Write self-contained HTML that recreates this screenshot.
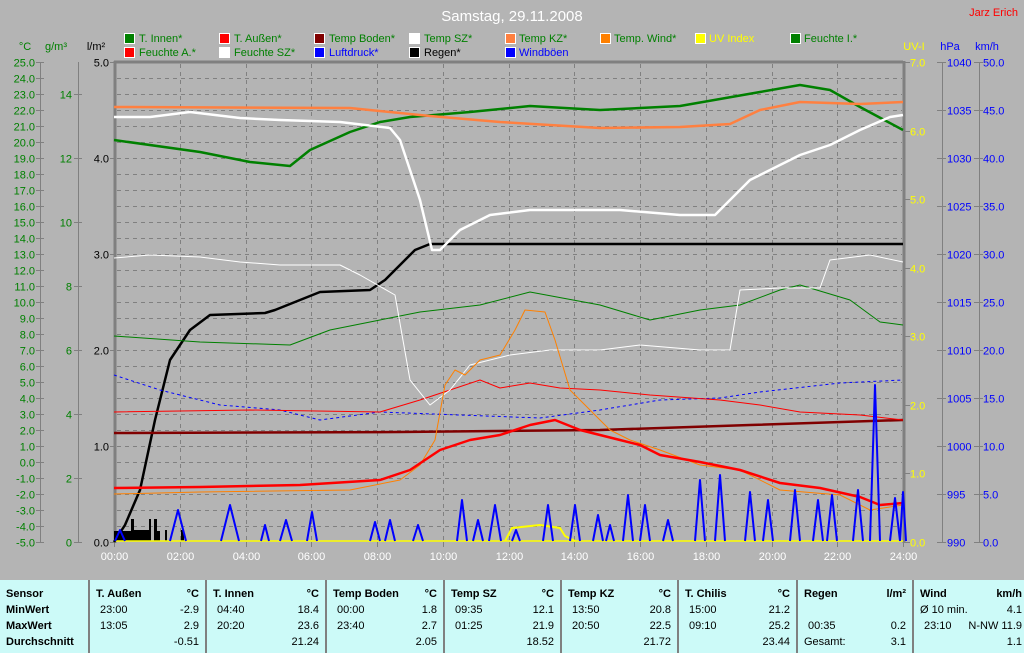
<!DOCTYPE html>
<html><head><meta charset="utf-8"><style>
body{margin:0;background:#b4b4b4;width:1024px;height:653px;overflow:hidden;font-family:"Liberation Sans",sans-serif}
svg{position:absolute;left:0;top:0}
.t{position:absolute;left:0;top:580px;width:1024px;height:73px;background:#ccfaf8;font-size:11px}
.c{position:absolute;top:0;height:73px;border-left:2px solid #808080}
.c div{position:absolute;white-space:nowrap}
.b{font-weight:bold}
</style></head><body>
<svg width="1024" height="580" font-family="Liberation Sans, sans-serif" font-size="11">
<text x="512" y="21" fill="#fff" font-size="15" text-anchor="middle">Samstag, 29.11.2008</text>
<text x="1018" y="16" fill="#f00" font-size="11" text-anchor="end">Jarz Erich</text>
<g font-size="11">
<rect x="124.5" y="33.5" width="10" height="10" fill="#008000" stroke="#fff"/><text x="139" y="42" fill="#008000">T. Innen*</text>
<rect x="124.5" y="47.5" width="10" height="10" fill="#f00" stroke="#fff"/><text x="139" y="56" fill="#008000">Feuchte A.*</text>
<rect x="219.5" y="33.5" width="10" height="10" fill="#f00" stroke="#fff"/><text x="234" y="42" fill="#008000">T. Außen*</text>
<rect x="219.5" y="47.5" width="10" height="10" fill="#fff" stroke="#fff"/><text x="234" y="56" fill="#008000">Feuchte SZ*</text>
<rect x="314.5" y="33.5" width="10" height="10" fill="#800000" stroke="#fff"/><text x="329" y="42" fill="#008000">Temp Boden*</text>
<rect x="314.5" y="47.5" width="10" height="10" fill="#00f" stroke="#fff"/><text x="329" y="56" fill="#00f">Luftdruck*</text>
<rect x="409.5" y="33.5" width="10" height="10" fill="#fff" stroke="#fff"/><text x="424" y="42" fill="#008000">Temp SZ*</text>
<rect x="409.5" y="47.5" width="10" height="10" fill="#000" stroke="#fff"/><text x="424" y="56" fill="#000">Regen*</text>
<rect x="505.5" y="33.5" width="10" height="10" fill="#ff8040" stroke="#fff"/><text x="519" y="42" fill="#008000">Temp KZ*</text>
<rect x="505.5" y="47.5" width="10" height="10" fill="#00f" stroke="#fff"/><text x="519" y="56" fill="#00f">Windböen</text>
<rect x="600.5" y="33.5" width="10" height="10" fill="#ff8000" stroke="#fff"/><text x="614" y="42" fill="#008000">Temp. Wind*</text>
<rect x="695.5" y="33.5" width="10" height="10" fill="#ff0" stroke="#fff"/><text x="709" y="42" fill="#ff0">UV Index</text>
<rect x="790.5" y="33.5" width="10" height="10" fill="#008000" stroke="#fff"/><text x="804" y="42" fill="#008000">Feuchte I.*</text>
</g>
<text x="25" y="50" fill="#008000" text-anchor="middle">°C</text>
<text x="56" y="50" fill="#008000" text-anchor="middle">g/m³</text>
<text x="96" y="50" fill="#000" text-anchor="middle">l/m²</text>
<text x="914" y="50" fill="#ff0" text-anchor="middle">UV-I</text>
<text x="950" y="50" fill="#00f" text-anchor="middle">hPa</text>
<text x="987" y="50" fill="#00f" text-anchor="middle">km/h</text>
<g stroke="#808080" fill="none">
<line x1="40.5" y1="62" x2="40.5" y2="542"/><line x1="78.5" y1="62" x2="78.5" y2="542"/>
<line x1="942.5" y1="62" x2="942.5" y2="542"/><line x1="979.5" y1="62" x2="979.5" y2="542"/>
<line x1="114" y1="62" x2="903" y2="62" stroke-width="3"/>
<line x1="115" y1="61" x2="115" y2="543" stroke-width="3"/>
<line x1="904" y1="61" x2="904" y2="543" stroke-width="3"/>
</g>
<g id="grid" stroke="#808080" stroke-dasharray="4,4"></g>
<g id="ax"></g>
<g id="series" fill="none" stroke-linejoin="round"></g>
</svg>
<div class="t">
<div class="c" style="left:-2px;width:88px;border:0"><div class="b" style="left:8px;top:8px">Sensor</div><div class="b" style="left:8px;top:24px">MinWert</div><div class="b" style="left:8px;top:40px">MaxWert</div><div class="b" style="left:8px;top:56px">Durchschnitt</div></div>
<div class="c" style="left:88px;width:115px"><div class="b" style="left:6px;top:8px">T. Außen</div><div class="b" style="right:6px;top:8px">°C</div><div style="left:10px;top:24px">23:00</div><div style="right:6px;top:24px">-2.9</div><div style="left:10px;top:40px">13:05</div><div style="right:6px;top:40px">2.9</div><div style="right:6px;top:56px">-0.51</div></div>
<div class="c" style="left:205px;width:118px"><div class="b" style="left:6px;top:8px">T. Innen</div><div class="b" style="right:6px;top:8px">°C</div><div style="left:10px;top:24px">04:40</div><div style="right:6px;top:24px">18.4</div><div style="left:10px;top:40px">20:20</div><div style="right:6px;top:40px">23.6</div><div style="right:6px;top:56px">21.24</div></div>
<div class="c" style="left:325px;width:116px"><div class="b" style="left:6px;top:8px">Temp Boden</div><div class="b" style="right:6px;top:8px">°C</div><div style="left:10px;top:24px">00:00</div><div style="right:6px;top:24px">1.8</div><div style="left:10px;top:40px">23:40</div><div style="right:6px;top:40px">2.7</div><div style="right:6px;top:56px">2.05</div></div>
<div class="c" style="left:443px;width:115px"><div class="b" style="left:6px;top:8px">Temp SZ</div><div class="b" style="right:6px;top:8px">°C</div><div style="left:10px;top:24px">09:35</div><div style="right:6px;top:24px">12.1</div><div style="left:10px;top:40px">01:25</div><div style="right:6px;top:40px">21.9</div><div style="right:6px;top:56px">18.52</div></div>
<div class="c" style="left:560px;width:115px"><div class="b" style="left:6px;top:8px">Temp KZ</div><div class="b" style="right:6px;top:8px">°C</div><div style="left:10px;top:24px">13:50</div><div style="right:6px;top:24px">20.8</div><div style="left:10px;top:40px">20:50</div><div style="right:6px;top:40px">22.5</div><div style="right:6px;top:56px">21.72</div></div>
<div class="c" style="left:677px;width:117px"><div class="b" style="left:6px;top:8px">T. Chilis</div><div class="b" style="right:6px;top:8px">°C</div><div style="left:10px;top:24px">15:00</div><div style="right:6px;top:24px">21.2</div><div style="left:10px;top:40px">09:10</div><div style="right:6px;top:40px">25.2</div><div style="right:6px;top:56px">23.44</div></div>
<div class="c" style="left:796px;width:114px"><div class="b" style="left:6px;top:8px">Regen</div><div class="b" style="right:6px;top:8px">l/m²</div><div style="left:10px;top:40px">00:35</div><div style="right:6px;top:40px">0.2</div><div style="left:6px;top:56px">Gesamt:</div><div style="right:6px;top:56px">3.1</div></div>
<div class="c" style="left:912px;width:110px"><div class="b" style="left:6px;top:8px">Wind</div><div class="b" style="right:2px;top:8px">km/h</div><div style="left:6px;top:24px">Ø 10 min.</div><div style="right:2px;top:24px">4.1</div><div style="left:10px;top:40px">23:10</div><div style="right:2px;top:40px">N-NW 11.9</div><div style="right:2px;top:56px">1.1</div></div>
</div>
<script>
var NS="http://www.w3.org/2000/svg";
function el(p,t,a,txt){var e=document.createElementNS(NS,t);for(var k in a)e.setAttribute(k,a[k]);if(txt!=null)e.textContent=txt;p.appendChild(e);return e;}
var g=document.getElementById('grid'),ax=document.getElementById('ax'),s=document.getElementById('series');
for(var i=1;i<30;i++){var y=62.5+i*16;el(g,'line',{x1:117,x2:902,y1:y,y2:y});}
for(var i=1;i<12;i++){var x=Math.round(114+i*65.75)+0.5;el(g,'line',{x1:x,x2:x,y1:64,y2:541});}
for(var i=0;i<=12;i++){var x=Math.round(114+i*65.75)+0.5;el(ax,'line',{x1:x,x2:x,y1:542,y2:547,stroke:'#808080'});
el(ax,'text',{x:x,y:560,fill:'#fff','text-anchor':'middle'},(i*2<10?'0':'')+(i*2)+':00');}
for(var i=0;i<=30;i++){var y=62.5+i*16,v=(25-i).toFixed(1);el(ax,'line',{x1:36,x2:44,y1:y,y2:y,stroke:'#808080'});el(ax,'text',{x:35,y:y+4,fill:'#008000','text-anchor':'end'},v);}
for(var i=0;i<=7;i++){var y=94.5+i*64;el(ax,'line',{x1:74,x2:82,y1:y,y2:y,stroke:'#808080'});el(ax,'text',{x:72,y:y+4,fill:'#008000','text-anchor':'end'},14-2*i);}
for(var i=0;i<=5;i++){var y=62.5+i*96;el(ax,'line',{x1:110,x2:114,y1:y,y2:y,stroke:'#808080'});el(ax,'text',{x:109,y:y+4,fill:'#000','text-anchor':'end'},(5-i).toFixed(1));}
for(var i=0;i<=7;i++){var y=Math.round(62+i*480/7)+0.5;el(ax,'line',{x1:904,x2:910,y1:y,y2:y,stroke:'#808080'});el(ax,'text',{x:910,y:y+4,fill:'#ff0'},(7-i).toFixed(1));}
for(var i=0;i<=10;i++){var y=62.5+i*48;el(ax,'line',{x1:937,x2:946,y1:y,y2:y,stroke:'#808080'});el(ax,'text',{x:947,y:y+4,fill:'#00f'},1040-5*i);
el(ax,'line',{x1:974,x2:983,y1:y,y2:y,stroke:'#808080'});el(ax,'text',{x:983,y:y+4,fill:'#00f'},(50-5*i).toFixed(1));}
function pl(pts,c,w,d){var a={points:pts,stroke:c,'stroke-width':w};if(d)a['stroke-dasharray']=d;el(s,'polyline',a);}
// rain bars
[[114,151,531],[131,133,519],[133,150,530],[132,134,519],[149,151,519],[154,157,519],[157,160,531],[165,167,530],[181,184,530]].forEach(function(r){el(s,'rect',{x:r[0],y:r[2],width:r[1]-r[0],height:541-r[2],fill:'#000'});});
pl("114,541 903,541","#ff0",1.5);
pl("505,541 512,528 540,525 560,528 565,536 575,541","#ff0",2);
pl("114,542 125,525 140,490 155,420 170,360 190,330 210,315 265,313 275,310 300,300 320,292 370,290 385,280 400,265 415,250 430,244 903,244","#000",2.5);
pl("114,433 400,432 600,430 750,425 903,420","#800000",2.5);
pl("114,375 160,390 220,405 280,410 320,420 380,412 460,415 540,418 600,410 660,400 720,398 760,392 840,383 903,380","#00f",1,"3,3");
pl("114,412 250,410 380,412 420,400 450,390 480,380 500,388 530,383 560,388 600,390 650,395 720,400 760,405 800,412 860,415 903,420","#f00",1);
pl("114,336 200,342 290,345 330,330 380,320 420,312 480,305 530,292 600,305 650,320 700,310 740,305 780,290 800,285 850,300 880,322 903,325","#008000",1);
pl("114,258 150,255 200,257 240,262 280,265 340,265 360,275 395,295 410,380 430,405 450,390 470,365 510,355 550,350 600,350 640,345 700,350 730,350 740,290 780,288 820,288 830,260 870,255 903,262","#fff",1);
pl("114,494 200,492 350,490 400,480 420,465 435,440 445,385 455,370 465,375 480,360 500,355 515,330 525,310 545,312 555,340 570,390 585,405 610,430 630,440 660,450 700,465 740,470 780,490 840,495 870,510 903,505","#ff8000",1);
pl("114,488 200,487 300,485 380,480 410,470 440,450 470,440 500,435 530,425 555,420 580,430 620,440 640,445 660,455 700,462 740,470 780,483 820,488 860,497 880,505 903,503","#f00",2.5);
pl("114,140 200,152 250,162 290,166 310,150 350,132 380,122 410,117 470,112 530,106 600,110 680,106 760,92 800,85 830,90 860,107 903,130","#008000",2.5);
pl("114,107 350,108 430,116 500,122 600,128 680,127 730,124 760,110 800,102 860,104 903,102","#ff8040",2.5);
pl("114,117 150,117 190,112 240,118 280,120 340,122 390,128 400,140 420,200 432,250 440,250 460,230 490,215 530,210 620,210 680,215 715,215 730,200 750,180 780,165 800,155 830,145 860,130 890,117 903,115","#fff",2.5);
var sp=[[120,530,5],[178,510,8],[230,505,9],[265,525,4],[286,520,6],[312,512,5],[375,522,5],[390,520,5],[418,525,5],[462,500,5],[478,520,5],[495,505,6],[516,530,4],[548,505,5],[575,505,5],[598,515,5],[610,525,4],[628,495,5],[645,505,5],[668,520,5],[700,480,5],[720,475,5],[750,492,5],[768,500,5],[795,490,5],[818,500,5],[832,495,5],[858,490,5],[875,385,5],[895,498,5],[903,492,3]];
sp.forEach(function(p){pl((p[0]-p[2])+",541 "+p[0]+","+p[1]+" "+(p[0]+p[2])+",541","#00f",2);});
</script>
</body></html>
